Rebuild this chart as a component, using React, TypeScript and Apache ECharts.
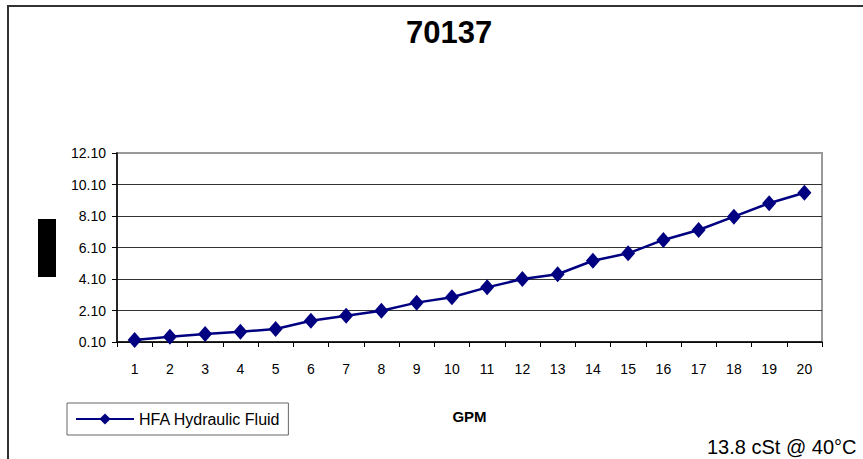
import React, { useEffect, useRef } from "react";
import * as echarts from "echarts";

const categories = ["1", "2", "3", "4", "5", "6", "7", "8", "9", "10", "11", "12", "13", "14", "15", "16", "17", "18", "19", "20"];
const hfaValues = [0.23, 0.44, 0.61, 0.75, 0.93, 1.45, 1.77, 2.09, 2.6, 2.94, 3.57, 4.1, 4.4, 5.26, 5.73, 6.58, 7.21, 8.06, 8.91, 9.58];
const yTickLabels = ["0.10", "2.10", "4.10", "6.10", "8.10", "10.10", "12.10"];
const seriesName = "HFA Hydraulic Fluid";
const titleText = "70137";
const xAxisName = "GPM";
const noteText = "13.8 cSt @ 40°C";

const FONT = "Liberation Sans, Arial, sans-serif";

export default function App() {
  const ref = useRef<HTMLDivElement>(null);
  useEffect(() => {
    if (!ref.current) return;
    const chart = echarts.init(ref.current, undefined, { renderer: "svg" });
    chart.setOption({
      animation: false,
      backgroundColor: "#fff",
      title: {
        text: titleText,
        left: 406,
        top: 17,
        padding: 0,
        textStyle: { fontFamily: FONT, fontSize: 31, fontWeight: "bold", color: "#000" },
      },
      legend: {
        left: 67,
        top: 403,
        padding: [8, 8, 8, 8],
        borderColor: "#666",
        borderWidth: 1,
        itemWidth: 58,
        itemHeight: 14,
        textStyle: { fontFamily: FONT, fontSize: 16, color: "#000" },
        data: [seriesName],
      },
      grid: {
        left: 117,
        top: 153,
        width: 705,
        height: 189,
        show: true,
        borderColor: "#999",
        borderWidth: 2,
        backgroundColor: "#fff",
      },
      xAxis: {
        type: "category",
        data: categories,
        boundaryGap: true,
        name: xAxisName,
        nameLocation: "middle",
        nameGap: 67,
        nameTextStyle: { fontFamily: FONT, fontSize: 15, fontWeight: "bold", color: "#000" },
        axisLine: { lineStyle: { color: "#000", width: 1.5 } },
        axisTick: { show: true, length: 5, inside: false, lineStyle: { color: "#000" } },
        axisLabel: { margin: 20, fontFamily: FONT, fontSize: 14, color: "#000" },
        splitLine: { show: false },
      },
      yAxis: [
        {
          type: "value",
          min: 0.1,
          max: 12.1,
          position: "left",
          show: false,
          splitLine: { show: false },
        },
        {
          type: "value",
          min: 0,
          max: 12,
          interval: 2,
          position: "left",
          axisLine: { show: true, lineStyle: { color: "#000", width: 1.5 } },
          axisTick: { show: true, length: 5, inside: false, lineStyle: { color: "#000" } },
          axisLabel: {
            margin: 11,
            fontFamily: FONT,
            fontSize: 14,
            color: "#000",
            formatter: (_v: number, i: number) => yTickLabels[i],
          },
          splitLine: { show: true, showMaxLine: false, lineStyle: { color: "#333", width: 1 } },
        },
      ],
      series: [
        {
          name: seriesName,
          type: "line",
          yAxisIndex: 0,
          data: hfaValues,
          symbol: "diamond",
          symbolSize: [14, 16],
          itemStyle: { color: "#000080" },
          lineStyle: { color: "#000080", width: 2.5 },
        },
      ],
      graphic: [
        {
          type: "rect",
          shape: { x: 8, y: 6, width: 900, height: 500 },
          style: { fill: "none", stroke: "#333", lineWidth: 2 },
          z: 100,
        },
        {
          type: "rect",
          shape: { x: 38, y: 219, width: 18, height: 58 },
          style: { fill: "#000" },
        },
        {
          type: "text",
          x: 707,
          y: 437,
          style: {
            text: noteText,
            font: `20px ${FONT}`,
            fill: "#000",
            align: "left",
            verticalAlign: "top",
          },
        },
      ],
    });
    return () => chart.dispose();
  }, []);
  return (
    <div
      ref={ref}
      style={{ position: "absolute", left: 0, top: 0, width: 863, height: 459 }}
    />
  );
}
